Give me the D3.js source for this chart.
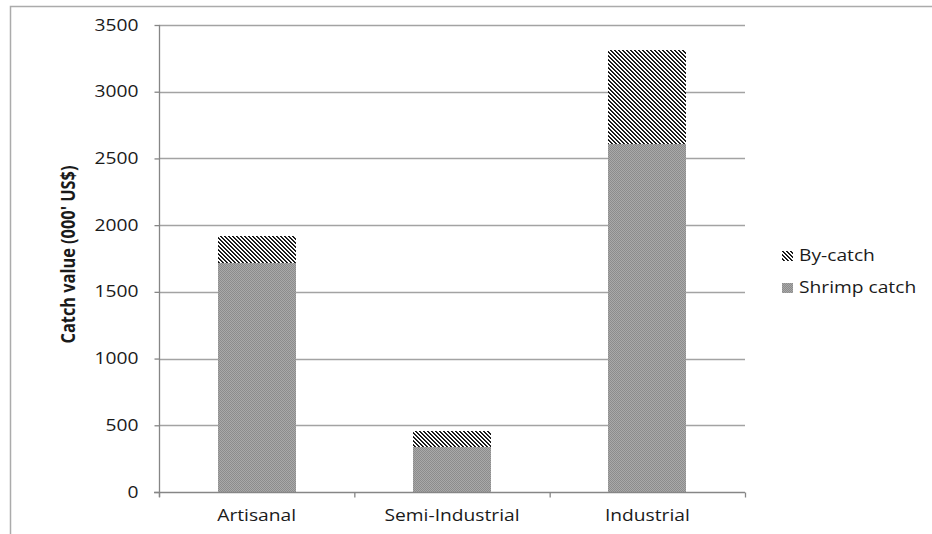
<!DOCTYPE html>
<html>
<head>
<meta charset="utf-8">
<script src="https://cdn.jsdelivr.net/npm/d3@7"></script>
<style>
  html, body { margin: 0; padding: 0; background: #fff; }
  svg { display: block; }
  text { font-family: "Open Sans", "DejaVu Sans", sans-serif; fill: #1a1a1a; }
</style>
</head>
<body>
<svg id="chart" width="932" height="534"></svg>
<script>
// Catch value by fishery sector (thousand US$)
const categories = ["Artisanal", "Semi-Industrial", "Industrial"];
const shrimpCatch = [1717, 337, 2605];
const byCatch = [202, 120, 708];
const seriesNames = ["Shrimp catch", "By-catch"];
const yTicks = [0, 500, 1000, 1500, 2000, 2500, 3000, 3500];
const yTitle = "Catch value (000' US$)";

const svg = d3.select("#chart");
const W = 932, H = 534;
const plot = { left: 159, right: 745, top: 25, bottom: 492 };
const stretch = 1.2; // horizontally widened lettering

// Stretch a text element's glyphs horizontally
function widen(sel, factor) {
  sel.each(function () {
    const w = this.getComputedTextLength();
    d3.select(this).attr("textLength", w * factor).attr("lengthAdjust", "spacingAndGlyphs");
  });
}

// Fill patterns
const defs = svg.append("defs");
const stripes = defs.append("pattern")
  .attr("id", "stripes").attr("patternUnits", "userSpaceOnUse")
  .attr("width", 4).attr("height", 4);
stripes.append("rect").attr("width", 4).attr("height", 4).attr("fill", "#fff");
for (let yy = 0; yy < 4; yy++) {
  for (let xx = 0; xx < 4; xx++) {
    const d = ((xx - yy) % 4 + 4) % 4;
    if (d === 0 || d === 1) {
      stripes.append("rect").attr("x", xx).attr("y", yy).attr("width", 1).attr("height", 1)
        .attr("fill", d === 0 ? "#111" : "#2a2a2a");
    }
  }
}
const dots = defs.append("pattern")
  .attr("id", "dots").attr("patternUnits", "userSpaceOnUse")
  .attr("width", 2).attr("height", 2);
dots.append("rect").attr("width", 2).attr("height", 2).attr("fill", "#a9a9a9");
dots.append("rect").attr("x", 0).attr("y", 0).attr("width", 1).attr("height", 1).attr("fill", "#8c8c8c");
dots.append("rect").attr("x", 1).attr("y", 1).attr("width", 1).attr("height", 1).attr("fill", "#8c8c8c");
const fills = { "Shrimp catch": "url(#dots)", "By-catch": "url(#stripes)" };

// Outer frame
svg.append("path")
  .attr("d", `M10.5,${H} V6.5 H${W}`)
  .attr("fill", "none").attr("stroke", "#ababab").attr("stroke-width", 1.5);

// Scales
const x = d3.scaleBand().domain(categories).range([plot.left, plot.right])
  .paddingInner(0.6).paddingOuter(0.3);
const y = d3.scaleLinear().domain([0, 3500]).range([plot.bottom, plot.top]);

// Gridlines
svg.append("g").selectAll("line")
  .data(yTicks.filter(t => t > 0))
  .join("line")
  .attr("x1", plot.left).attr("x2", plot.right)
  .attr("y1", d => Math.round(y(d)) + 0.5).attr("y2", d => Math.round(y(d)) + 0.5)
  .attr("stroke", "#a3a3a3").attr("stroke-width", 1.3);

// Stacked bars
const rows = categories.map((c, i) => ({ cat: c, "Shrimp catch": shrimpCatch[i], "By-catch": byCatch[i] }));
const stack = d3.stack().keys(seriesNames)(rows);
svg.append("g").selectAll("g")
  .data(stack)
  .join("g")
  .attr("fill", d => fills[d.key])
  .selectAll("rect")
  .data(d => d)
  .join("rect")
  .attr("x", d => x(d.data.cat))
  .attr("width", x.bandwidth())
  .attr("y", d => y(d[1]))
  .attr("height", d => y(d[0]) - y(d[1]))
  .attr("shape-rendering", "crispEdges");

// Y axis
const yAxis = svg.append("g")
  .attr("transform", `translate(${plot.left + 0.5},0)`)
  .call(d3.axisLeft(y).tickValues(yTicks).tickSize(5).tickPadding(16).tickFormat(d3.format("d")));
yAxis.select(".domain").attr("stroke", "#868686").attr("stroke-width", 1.3)
  .attr("d", `M0,${plot.top} V${plot.bottom + 5}`);
yAxis.selectAll(".tick line").attr("stroke", "#868686").attr("stroke-width", 1.3);
yAxis.selectAll(".tick text")
  .style("font-family", "'Open Sans', sans-serif").style("font-size", "16px").attr("fill", "#1a1a1a");
widen(yAxis.selectAll(".tick text"), stretch);

// X axis: line and ticks at category boundaries
const bounds = d3.scaleLinear().domain([0, categories.length]).range([plot.left, plot.right]);
const xAxis = svg.append("g")
  .attr("transform", `translate(0,${plot.bottom + 0.5})`)
  .call(d3.axisBottom(bounds).tickValues(d3.range(categories.length + 1)).tickSize(5).tickFormat(""));
xAxis.select(".domain").attr("stroke", "#868686").attr("stroke-width", 1.3)
  .attr("d", `M${plot.left - 5},0 H${plot.right}`);
xAxis.selectAll(".tick line").attr("stroke", "#868686").attr("stroke-width", 1.3);

// Category labels
const xLabels = svg.append("g")
  .attr("transform", `translate(0,${plot.bottom})`)
  .call(d3.axisBottom(x).tickSize(0).tickPadding(18));
xLabels.select(".domain").remove();
xLabels.selectAll(".tick text")
  .style("font-family", "'Open Sans', sans-serif").style("font-size", "16px").attr("fill", "#1a1a1a");
widen(xLabels.selectAll(".tick text"), stretch);

// Y axis title (rotated; widened across the screen's horizontal direction)
svg.append("text")
  .attr("transform", `translate(75,${(plot.top + plot.bottom) / 2 - 4}) rotate(-90) scale(1,1.2)`)
  .attr("text-anchor", "middle")
  .style("font-size", "17px").style("font-weight", "bold")
  .attr("textLength", 178).attr("lengthAdjust", "spacingAndGlyphs")
  .text(yTitle);

// Legend (by-catch listed first, as stacked top)
const legendItems = seriesNames.slice().reverse();
const legend = svg.append("g").attr("transform", "translate(782,251)");
const li = legend.selectAll("g").data(legendItems).join("g")
  .attr("transform", (d, i) => `translate(0,${i * 32})`);
li.append("rect").attr("width", 11).attr("height", 10)
  .attr("fill", d => fills[d]).attr("shape-rendering", "crispEdges");
li.append("text").attr("x", 17).attr("y", 10)
  .style("font-size", "16px").text(d => d);
widen(li.selectAll("text"), stretch);
</script>
</body>
</html>
